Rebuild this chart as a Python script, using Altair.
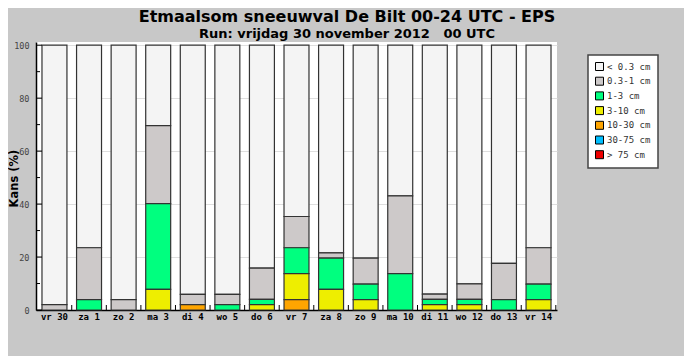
import altair as alt
import pandas as pd

days = ["vr 30", "za 1", "zo 2", "ma 3", "di 4", "wo 5", "do 6", "vr 7",
        "za 8", "zo 9", "ma 10", "di 11", "wo 12", "do 13", "vr 14"]

classes = ["< 0.3 cm", "0.3-1 cm", "1-3 cm", "3-10 cm", "10-30 cm", "30-75 cm", "> 75 cm"]
colors = ["#f4f4f4", "#cdc9c9", "#00ff7f", "#eeee00", "#ffa500", "#00bfff", "#ee0000"]

# kans (%) per klasse per dag
lt03 = [98.0, 76.5, 96.1, 30.4, 94.1, 94.1, 84.2, 64.7, 78.4, 80.4, 56.9, 94.0, 90.1, 82.4, 76.5]
c03_1 = [2.0, 19.6, 3.9, 29.4, 3.9, 3.9, 11.8, 11.8, 2.0, 9.8, 29.4, 2.0, 5.9, 13.7, 13.7]
c1_3 = [0, 3.9, 0, 32.4, 0, 2.0, 2.0, 9.8, 11.8, 5.9, 13.7, 2.0, 2.0, 3.9, 5.9]
c3_10 = [0, 0, 0, 7.8, 0, 0, 2.0, 9.8, 7.8, 3.9, 0, 2.0, 2.0, 0, 3.9]
c10_30 = [0, 0, 0, 0, 2.0, 0, 0, 3.9, 0, 0, 0, 0, 0, 0, 0]
c30_75 = [0, 0, 0, 0, 0, 0, 0, 0, 0, 0, 0, 0, 0, 0, 0]
c75 = [0, 0, 0, 0, 0, 0, 0, 0, 0, 0, 0, 0, 0, 0, 0]

major_ticks = [0, 20, 40, 60, 80, 100]
minor_ticks = [10, 30, 50, 70, 90]

title_text = "Etmaalsom sneeuwval De Bilt 00-24 UTC - EPS"
subtitle_text = "Run: vrijdag 30 november 2012\u00a0\u00a0\u00a000 UTC"

series = [lt03, c03_1, c1_3, c3_10, c10_30, c30_75, c75]
rows = []
for ci, (cls, vals) in enumerate(zip(classes, series)):
    for d, v in zip(days, vals):
        if v > 0:
            rows.append({"day": d, "cls": cls, "v": v, "ord": len(classes) - 1 - ci})
df = pd.DataFrame(rows)

W, H = 521, 268
ydom = [0, 101.2]

bars = alt.Chart(df).mark_bar(stroke="#333333", strokeWidth=1.2).encode(
    x=alt.X("day:N", sort=days,
            scale=alt.Scale(paddingInner=0.278, paddingOuter=0.173),
            axis=alt.Axis(title=None, labelAngle=0, tickSize=0, tickOpacity=0,
                          domainColor="black", domainWidth=1.5,
                          labelFont="DejaVu Sans Mono", labelFontWeight="bold",
                          labelFontSize=9, labelColor="black", labelPadding=2,
                          grid=False)),
    y=alt.Y("v:Q", stack="zero",
            scale=alt.Scale(domain=ydom, nice=False),
            axis=alt.Axis(title="Kans (%)", values=major_ticks, tickSize=0, tickOpacity=0,
                          domainColor="black", domainWidth=1.5,
                          gridColor="#dedede", gridWidth=1,
                          labelFont="DejaVu Sans Mono", labelFontSize=8.5,
                          labelColor="#444444", labelPadding=7,
                          titleFont="DejaVu Sans", titleFontSize=11.5,
                          titleFontWeight="bold", titleColor="black",
                          titleX=-22, titleY=136, titleAngle=270,
                          titleAlign="center", titleBaseline="middle")),
    color=alt.Color("cls:N", scale=alt.Scale(domain=classes, range=colors),
                    legend=alt.Legend(title=None, orient="none", legendX=552, legendY=13,
                                      symbolType="square", symbolSize=64,
                                      symbolStrokeColor="black", symbolStrokeWidth=1,
                                      labelFont="DejaVu Sans Mono", labelFontSize=9,
                                      labelColor="#333333", labelOffset=3,
                                      rowPadding=1.7, padding=7,
                                      fillColor="white", strokeColor="#444444")),
    order=alt.Order("ord:Q", sort="ascending"),
)

ymaj = alt.Chart(pd.DataFrame({"v": major_ticks})).mark_rule(color="black", strokeWidth=1).encode(
    y=alt.Y("v:Q", scale=alt.Scale(domain=ydom, nice=False)),
    x=alt.value(0), x2=alt.value(6),
)
ymin = alt.Chart(pd.DataFrame({"v": minor_ticks})).mark_rule(color="black", strokeWidth=1).encode(
    y=alt.Y("v:Q", scale=alt.Scale(domain=ydom, nice=False)),
    x=alt.value(0), x2=alt.value(4),
)
xt = alt.Chart(pd.DataFrame({"day": days})).mark_rule(color="black", strokeWidth=1, xOffset=4.8).encode(
    x=alt.X("day:N", sort=days, bandPosition=1),
    y=alt.value(H - 5), y2=alt.value(H),
)

chart = alt.layer(bars, ymaj, ymin, xt).properties(
    width=W, height=H,
    background="#c8c8c8",
    padding={"left": 28, "top": 34, "right": 127, "bottom": 46},
    autosize=alt.AutoSizeParams(type="none"),
    title=alt.TitleParams(text=title_text, subtitle=subtitle_text,
                          anchor="middle", frame="group", dx=50.5, offset=0,
                          font="DejaVu Sans", fontSize=16, fontWeight="bold", color="black",
                          subtitleFont="DejaVu Sans", subtitleFontSize=13,
                          subtitleFontWeight="bold", subtitleColor="black",
                          subtitlePadding=3),
).configure_view(fill="white", strokeWidth=0).configure_legend(strokeWidth=1.5)

chart.save("out.html", embed_options={"renderer": "svg", "actions": False})
